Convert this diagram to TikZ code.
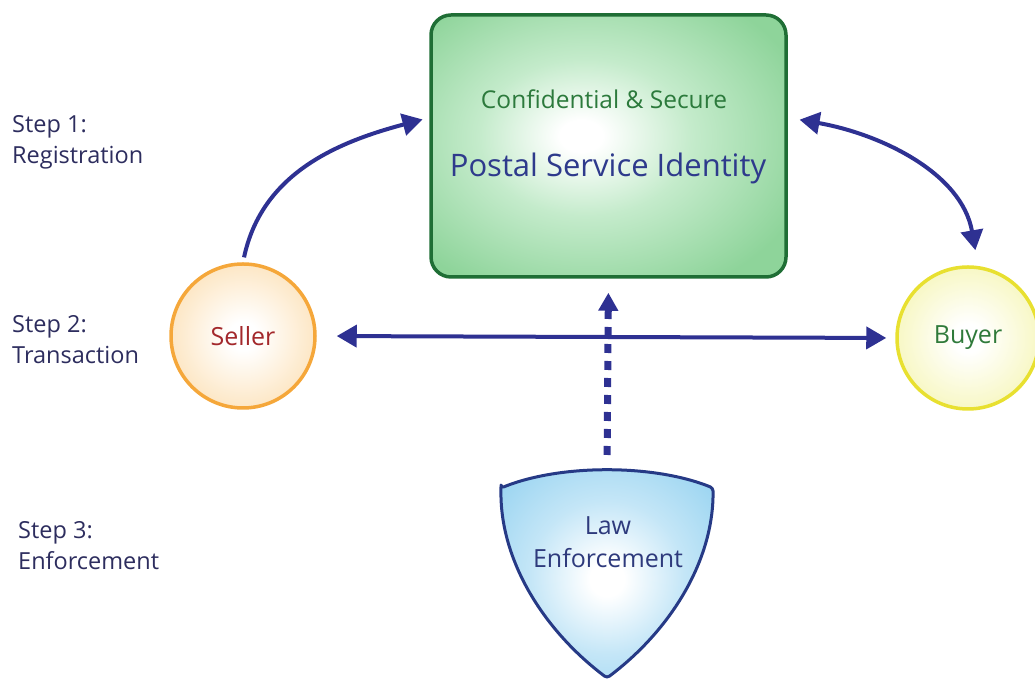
\documentclass[tikz,border=0pt]{standalone}
\usepackage{fontspec}
\setmainfont{Open Sans}
\usetikzlibrary{arrows.meta}
\definecolor{navy}{HTML}{2E3192}
\definecolor{steptxt}{HTML}{2D2D5E}
\definecolor{boxborder}{HTML}{1F6E35}
\definecolor{boxfill}{HTML}{8ED49A}
\definecolor{boxmid}{HTML}{C4EBCB}
\definecolor{conftxt}{HTML}{2C7A3C}
\definecolor{psitxt}{HTML}{2E3A8C}
\definecolor{sellborder}{HTML}{F5A73A}
\definecolor{sellfill}{HTML}{FBD39A}
\definecolor{sellmid}{HTML}{FDE8C8}
\definecolor{selltxt}{HTML}{A3282B}
\definecolor{buyborder}{HTML}{E8E030}
\definecolor{buyfill}{HTML}{F0F08C}
\definecolor{buymid}{HTML}{F8F8C8}
\definecolor{buytxt}{HTML}{2F7A3A}
\definecolor{shieldborder}{HTML}{263A86}
\definecolor{shieldfill}{HTML}{86CCEE}
\definecolor{shieldmid}{HTML}{C4E6F7}
\definecolor{lawtxt}{HTML}{2E3A7C}
\pgfdeclareradialshading{boxshade}{\pgfpoint{-4bp}{2bp}}{color(0bp)=(white); color(3bp)=(white); color(15bp)=(boxmid); color(32bp)=(boxfill); color(80bp)=(boxfill)}
\pgfdeclareradialshading{sellshade}{\pgfpoint{0bp}{0bp}}{color(0bp)=(white); color(5bp)=(white); color(24bp)=(sellmid); color(46bp)=(sellfill); color(60bp)=(sellfill)}
\pgfdeclareradialshading{buyshade}{\pgfpoint{0bp}{0bp}}{color(0bp)=(white); color(5bp)=(white); color(24bp)=(buymid); color(46bp)=(buyfill); color(60bp)=(buyfill)}
\pgfdeclareradialshading{shieldshade}{\pgfpoint{0bp}{-2bp}}{color(0bp)=(white); color(4bp)=(white); color(18bp)=(shieldmid); color(40bp)=(shieldfill); color(70bp)=(shieldfill)}
\tikzset{
  steplabel/.style={font=\fontsize{23.5}{31}\selectfont, text=steptxt, align=left, inner sep=0pt},
  arr/.style={draw=navy, line width=4pt, -{Triangle[length=20pt,width=22pt]}},
  darr/.style={draw=navy, line width=4pt, {Triangle[length=20pt,width=22pt]}-{Triangle[length=20pt,width=22pt]}},
  dotarr/.style={draw=navy, line width=7pt, dash pattern=on 9pt off 8pt, -{Triangle[length=18pt,width=19pt]}},
  party/.style={circle, line width=3.5pt, minimum size=144pt, inner sep=0pt, font=\fontsize{25}{30}\selectfont, shade},
}
\begin{document}
\begin{tikzpicture}[x=1pt,y=1pt]
\useasboundingbox (0,0) rectangle (1035,679);
% central box
\node[draw=boxborder, line width=3.5pt, rounded corners=20pt, minimum width=355pt, minimum height=262pt, shade, shading=boxshade] (box) at (608.5,533) {};
\node[font=\fontsize{24.5}{28}\selectfont, text=conftxt] (conf) at (604,580) {Confidential \& Secure};
\node[font=\fontsize{31}{36}\selectfont, text=psitxt] (psi) at (608,511) {Postal Service Identity};
% seller and buyer
\node[party, draw=sellborder, shading=sellshade, text=selltxt] (seller) at (243,343) {Seller};
\node[party, draw=buyborder, shading=buyshade, text=buytxt, minimum size=142pt] (buyer) at (968,341) {Buyer};
% shield
\path[draw=shieldborder, line width=3pt, line join=round, rounded corners=3pt, shade, shading=shieldshade]
  (501,191) .. controls (560,215) and (654,215) .. (713,191)
  .. controls (714,120) and (672,50) .. (607,1)
  .. controls (542,50) and (500,120) .. (501,191) -- cycle;
\node[font=\fontsize{25}{33}\selectfont, text=lawtxt, align=center] (law) at (608,137) {Law\\Enforcement};
\coordinate (shieldtop) at (607,209);
% step labels
\node[steplabel, anchor=north west] (s1) at (12,564) {Step 1:\\Registration};
\node[steplabel, anchor=north west] (s2) at (12,364) {Step 2:\\Transaction};
\node[steplabel, anchor=north west] (s3) at (18,158) {Step 3:\\Enforcement};
% connectors
\draw[arr, shorten <=5pt, shorten >=7pt] (seller.north) to[out=78, in=195] (box.171);
\draw[darr, shorten <=12pt, shorten >=16pt] (box.9) to[out=-10, in=100] (buyer.82);
\draw[darr, shorten <=20pt, shorten >=9pt] (seller.east) -- (buyer.west);
\draw[dotarr, shorten <=15pt, shorten >=14pt] (shieldtop) -- (box.south);
\end{tikzpicture}
\end{document}
